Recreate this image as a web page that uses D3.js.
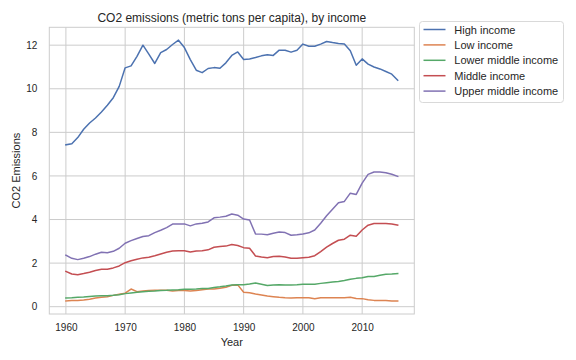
<!DOCTYPE html>
<html>
<head>
<meta charset="utf-8">
<script src="https://cdn.jsdelivr.net/npm/d3@7"></script>
<style>
  html, body { margin: 0; padding: 0; background: #ffffff; }
  svg text { font-family: "Liberation Sans", Arial, sans-serif; fill: #262626; }
</style>
</head>
<body>
<svg id="chart" width="576" height="360"></svg>
<script>
const years = d3.range(1960, 2017);

const seriesNames = ["High income", "Low income", "Lower middle income", "Middle income", "Upper middle income"];
const seriesColors = ["#4c72b0", "#dd8452", "#55a868", "#c44e52", "#8172b3"];

const highIncome = [7.43, 7.48, 7.76, 8.14, 8.43, 8.66, 8.93, 9.24, 9.59, 10.11,
  10.96, 11.05, 11.49, 12.00, 11.59, 11.16, 11.66, 11.80, 12.03, 12.23,
  11.89, 11.34, 10.85, 10.74, 10.93, 10.97, 10.94, 11.19, 11.53, 11.69,
  11.34, 11.37, 11.43, 11.51, 11.56, 11.53, 11.77, 11.77, 11.68, 11.77,
  12.05, 11.95, 11.95, 12.05, 12.17, 12.12, 12.08, 12.05, 11.74, 11.08,
  11.37, 11.13, 11.00, 10.91, 10.79, 10.67, 10.39];

const lowIncome = [0.26, 0.28, 0.29, 0.31, 0.34, 0.40, 0.43, 0.46, 0.52, 0.57,
  0.62, 0.81, 0.69, 0.72, 0.74, 0.75, 0.75, 0.75, 0.72, 0.74,
  0.74, 0.72, 0.74, 0.78, 0.81, 0.81, 0.85, 0.89, 0.98, 1.00,
  0.66, 0.64, 0.58, 0.54, 0.49, 0.46, 0.43, 0.41, 0.40, 0.41,
  0.41, 0.41, 0.37, 0.41, 0.41, 0.41, 0.41, 0.41, 0.43, 0.38,
  0.37, 0.32, 0.29, 0.29, 0.28, 0.26, 0.26];

const lowerMiddleIncome = [0.40, 0.41, 0.43, 0.44, 0.47, 0.49, 0.50, 0.50, 0.52, 0.55,
  0.60, 0.63, 0.66, 0.69, 0.71, 0.72, 0.74, 0.75, 0.77, 0.78,
  0.80, 0.80, 0.81, 0.83, 0.84, 0.88, 0.91, 0.95, 1.00, 1.01,
  1.01, 1.04, 1.09, 1.03, 0.97, 1.00, 1.01, 1.00, 1.00, 1.01,
  1.03, 1.03, 1.03, 1.07, 1.10, 1.13, 1.16, 1.20, 1.26, 1.30,
  1.33, 1.39, 1.39, 1.44, 1.49, 1.50, 1.52];

const middleIncome = [1.62, 1.50, 1.47, 1.52, 1.58, 1.66, 1.72, 1.72, 1.78, 1.87,
  2.02, 2.11, 2.18, 2.24, 2.27, 2.34, 2.42, 2.50, 2.56, 2.57,
  2.57, 2.51, 2.56, 2.57, 2.61, 2.73, 2.76, 2.78, 2.85, 2.81,
  2.71, 2.68, 2.33, 2.28, 2.25, 2.30, 2.31, 2.28, 2.22, 2.22,
  2.25, 2.27, 2.34, 2.53, 2.73, 2.90, 3.05, 3.10, 3.28, 3.23,
  3.52, 3.74, 3.82, 3.82, 3.82, 3.79, 3.74];

const upperMiddleIncome = [2.36, 2.22, 2.16, 2.22, 2.30, 2.41, 2.50, 2.48, 2.54, 2.68,
  2.91, 3.03, 3.13, 3.22, 3.26, 3.40, 3.51, 3.63, 3.79, 3.80,
  3.80, 3.71, 3.80, 3.83, 3.89, 4.08, 4.11, 4.15, 4.25, 4.20,
  4.02, 3.98, 3.34, 3.33, 3.30, 3.37, 3.43, 3.40, 3.28, 3.30,
  3.34, 3.39, 3.52, 3.83, 4.17, 4.47, 4.77, 4.83, 5.21, 5.15,
  5.67, 6.07, 6.18, 6.18, 6.15, 6.08, 5.98];

const xTicks = [1960, 1970, 1980, 1990, 2000, 2010];
const yTicks = [0, 2, 4, 6, 8, 10, 12];

const titleText = "CO2 emissions (metric tons per capita), by income";
const xLabel = "Year";
const yLabel = "CO2 Emissions";

const allSeries = [highIncome, lowIncome, lowerMiddleIncome, middleIncome, upperMiddleIncome];

const svg = d3.select("#chart");
const pLeft = 49.3, pRight = 414.3, pTop = 27.3, pBottom = 314;

const x = d3.scaleLinear().domain([1957.2, 2018.8]).range([pLeft, pRight]);
const y = d3.scaleLinear().domain([-0.335, 12.82]).range([pBottom, pTop]);

const grid = "#cccccc";

// grid
const g = svg.append("g");
g.selectAll(".vg").data(xTicks).enter().append("line")
  .attr("x1", d => x(d)).attr("x2", d => x(d))
  .attr("y1", pTop).attr("y2", pBottom)
  .attr("stroke", grid).attr("stroke-width", 1);
g.selectAll(".hg").data(yTicks).enter().append("line")
  .attr("x1", pLeft).attr("x2", pRight)
  .attr("y1", d => y(d)).attr("y2", d => y(d))
  .attr("stroke", grid).attr("stroke-width", 1);

// axes (labels only, no tick marks)
const xAxis = d3.axisBottom(x).tickValues(xTicks).tickFormat(d3.format("d")).tickSize(0).tickPadding(10);
const yAxis = d3.axisLeft(y).tickValues(yTicks).tickFormat(d3.format("d")).tickSize(0).tickPadding(12);

const gx = svg.append("g").attr("transform", `translate(0,${pBottom})`).call(xAxis);
gx.select(".domain").remove();
gx.selectAll("text").style("font-size", "10px").attr("fill", "#262626");

const gy = svg.append("g").attr("transform", `translate(${pLeft},0)`).call(yAxis);
gy.select(".domain").remove();
gy.selectAll("text").style("font-size", "10px").attr("fill", "#262626");

// lines
const line = d3.line().x((d, i) => x(years[i])).y(d => y(d));
allSeries.forEach((s, i) => {
  svg.append("path").datum(s)
    .attr("d", line)
    .attr("fill", "none")
    .attr("stroke", seriesColors[i])
    .attr("stroke-width", 1.5)
    .attr("stroke-linejoin", "round")
    .attr("stroke-linecap", "square");
});

// frame
svg.append("rect")
  .attr("x", pLeft).attr("y", pTop)
  .attr("width", pRight - pLeft).attr("height", pBottom - pTop)
  .attr("fill", "none").attr("stroke", grid).attr("stroke-width", 1);

// title and labels
svg.append("text").attr("x", (pLeft + pRight) / 2).attr("y", 22)
  .attr("text-anchor", "middle").style("font-size", "12px").text(titleText);
svg.append("text").attr("x", (pLeft + pRight) / 2).attr("y", 346)
  .attr("text-anchor", "middle").style("font-size", "11px").text(xLabel);
svg.append("text")
  .attr("transform", `translate(20,${(pTop + pBottom) / 2}) rotate(-90)`)
  .attr("text-anchor", "middle").style("font-size", "11px").text(yLabel);

// legend
const lg = svg.append("g");
lg.append("rect").attr("x", 419.5).attr("y", 21.5).attr("width", 144).attr("height", 81)
  .attr("rx", 3).attr("fill", "#ffffff").attr("fill-opacity", 0.8)
  .attr("stroke", "#d9d9d9").attr("stroke-width", 1);
seriesNames.forEach((name, i) => {
  const yy = 29.5 + i * 15.4;
  lg.append("line").attr("x1", 423.5).attr("x2", 445.5).attr("y1", yy).attr("y2", yy)
    .attr("stroke", seriesColors[i]).attr("stroke-width", 1.5);
  lg.append("text").attr("x", 454.3).attr("y", yy + 4).style("font-size", "11px").text(name);
});
</script>
</body>
</html>
